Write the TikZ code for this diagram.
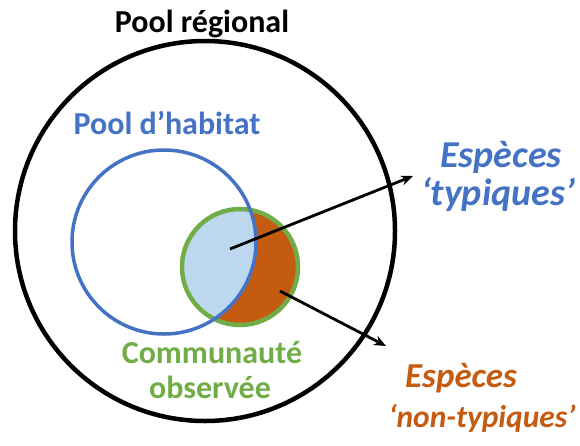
\documentclass[tikz,border=0pt]{standalone}
\usepackage{fontspec}
\setmainfont{Carlito}
\usetikzlibrary{arrows.meta}
\definecolor{oblue}{HTML}{4472C4}
\definecolor{ogreen}{HTML}{70AD47}
\definecolor{oorange}{HTML}{C55A11}
\definecolor{lblue}{HTML}{BDD7EE}
\begin{document}
\begin{tikzpicture}[x=1pt,y=-1pt,
  ring/.style={circle,inner sep=0pt,line width=3.5pt},
  lab/.style={anchor=base,inner sep=0pt,font=\bfseries\fontsize{32}{36}\selectfont},
  big/.style={anchor=base,inner sep=0pt,font=\bfseries\itshape\fontsize{38}{42}\selectfont},
  bigo/.style={anchor=base,inner sep=0pt,font=\bfseries\itshape\fontsize{35}{40}\selectfont},
  arr/.style={line width=2.8pt,-{Stealth[length=12pt,width=10pt]}}]
\useasboundingbox (0,0) rectangle (580,445);
% fills
\fill[oorange] (240,267) circle[radius=58];
\begin{scope}
  \clip (164,242) circle[radius=92];
  \fill[lblue] (240,267) circle[radius=58];
\end{scope}
\node[ring,draw=black,line width=4.5pt,minimum size=380pt] (pool) at (205,231) {};
\node[ring,draw=ogreen,line width=4.5pt,minimum size=116pt] (comm) at (240,267) {};
\node[ring,draw=oblue,minimum size=184pt] (hab) at (164,242) {};
% texts
\node[lab] (tpool) at (202,32) {Pool régional};
\node[lab,text=oblue] (thab) at (167,134) {Pool d’habitat};
\node[lab,text=ogreen] (tcomm1) at (212,363) {Communauté};
\node[lab,text=ogreen] (tcomm2) at (210,398) {observée};
\node[big,text=oblue] (ttyp1) at (501,167) {Espèces};
\node[big,text=oblue] (ttyp2) at (498,205) {‘typiques’};
\node[bigo,text=oorange] (tnon1) at (461,387) {Espèces};
\node[bigo,text=oorange,font=\bfseries\itshape\fontsize{31.5}{36}\selectfont] (tnon2) at (482,427) {‘non-typiques’};
% arrows
\coordinate (a1) at (230,249);
\coordinate (b1) at (413,176);
\coordinate (a2) at (280,291);
\coordinate (b2) at (386,346);
\draw[arr] (a1) -- (b1);
\draw[arr] (a2) -- (b2);
\end{tikzpicture}
\end{document}
